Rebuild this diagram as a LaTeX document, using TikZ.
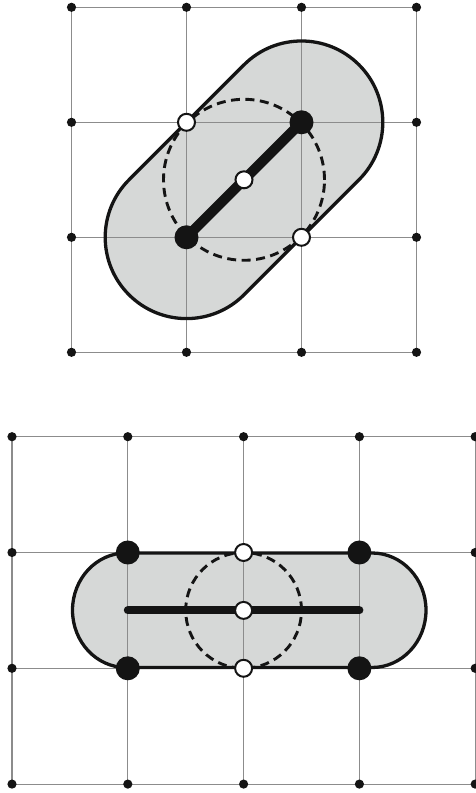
\documentclass[tikz,border=0pt]{standalone}
\usetikzlibrary{calc}
\definecolor{capfill}{HTML}{D6D8D7}
\definecolor{gridc}{HTML}{8C8C8C}
\definecolor{ink}{HTML}{141414}
\begin{document}
\begin{tikzpicture}[x=1pt,y=1pt,
  gridline/.style={draw=gridc,line width=1.1pt},
  sdot/.style={circle,fill=ink,inner sep=0pt,minimum size=9.2pt},
  bdot/.style={circle,fill=ink,inner sep=0pt,minimum size=24pt},
  wdot/.style={circle,fill=white,draw=ink,line width=2pt,inner sep=0pt,minimum size=17pt},
  capsule/.style={line width=3.3pt,draw=ink},
  dashcirc/.style={draw=ink,line width=2.9pt,dash pattern=on 9pt off 5.5pt},
  bar/.style={draw=ink,line cap=round}]
\useasboundingbox (0,0) rectangle (476,793);
% ---------- top figure ----------
\foreach \i/\x in {0/71.5,1/186.5,2/301.5,3/416.5}
  \foreach \j/\y in {0/785.7,1/670.7,2/555.7,3/440.7}
    \coordinate (t\i\j) at (\x,\y);
\coordinate (tC) at ($(t12)!0.5!(t21)$);
\fill[capfill] (t12) ++(135:81.3) arc[start angle=135,end angle=315,radius=81.3]
  -- ($(t21)+(-45:81.3)$) arc[start angle=-45,end angle=135,radius=81.3] -- cycle;
\foreach \i in {0,...,3} {
  \draw[gridline] (t\i0) -- (t\i3);
  \draw[gridline] (t0\i) -- (t3\i);
}
\draw[capsule] (t12) ++(135:81.3) arc[start angle=135,end angle=315,radius=81.3]
  -- ($(t21)+(-45:81.3)$) arc[start angle=-45,end angle=135,radius=81.3] -- cycle;
\draw[dashcirc] (tC) circle[radius=80.5];
\draw[bar,line width=10pt] (t12) -- (t21);
\foreach \p in {00,10,20,30,01,31,02,32,03,13,23,33}
  \node[sdot] (st\p) at (t\p) {};
\node[bdot] (ta) at (t12) {};
\node[bdot] (tb) at (t21) {};
\node[wdot] (tw1) at (t11) {};
\node[wdot] (tw2) at (t22) {};
\node[wdot] (tw3) at (tC) {};
% ---------- bottom figure ----------
\foreach \i/\x in {0/12,1/127.8,2/243.6,3/359.4,4/475.2}
  \foreach \j/\y in {0/356.3,1/240.5,2/124.7,3/8.9}
    \coordinate (b\i\j) at (\x,\y);
\coordinate (bL) at (127.8,182.6);
\coordinate (bR) at (359.4,182.6);
\coordinate (bC) at (243.6,182.6);
\fill[capfill] (126,240) -- (372,240)
  arc[start angle=90,end angle=-90,x radius=54,y radius=57.25]
  -- (126,125.5) arc[start angle=270,end angle=90,x radius=53.5,y radius=57.25] -- cycle;
\foreach \i in {0,...,4} \draw[gridline] (b\i0) -- (b\i3);
\foreach \j in {0,...,3} \draw[gridline] (b0\j) -- (b4\j);
\draw[capsule] (126,240) -- (372,240)
  arc[start angle=90,end angle=-90,x radius=54,y radius=57.25]
  -- (126,125.5) arc[start angle=270,end angle=90,x radius=53.5,y radius=57.25] -- cycle;
\draw[bar,line width=8pt] (bL) -- (bR);
\draw[dashcirc] (bC) circle[radius=57.9];
\foreach \p in {00,10,20,30,40,01,41,02,42,03,13,23,33,43}
  \node[sdot] (sb\p) at (b\p) {};
\node[bdot] (ba) at (b11) {};
\node[bdot] (bb) at (b31) {};
\node[bdot] (bc) at (b12) {};
\node[bdot] (bd) at (b32) {};
\node[wdot] (bw1) at (b21) {};
\node[wdot] (bw2) at (bC) {};
\node[wdot] (bw3) at (b22) {};
\end{tikzpicture}
\end{document}
